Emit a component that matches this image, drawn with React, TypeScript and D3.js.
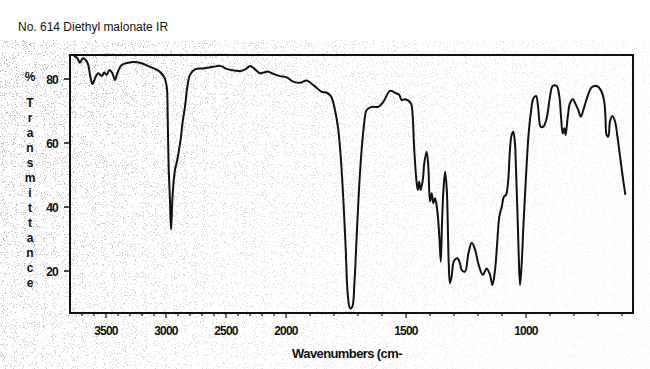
import React from 'react';
import * as d3 from 'd3';

const width = 650;
const height = 369;

// wavenumber (cm-1) and %T
const wavenumbers = [
  3767, 3739, 3717, 3694, 3667, 3648, 3628, 3611, 3592, 3564, 3536, 3514, 3494, 3472, 3447, 3425, 3406, 3369,
  3314, 3272, 3203, 3133, 3064, 3017, 2994, 2986, 2978, 2967, 2958, 2944, 2925, 2906, 2883, 2875, 2861, 2842,
  2822, 2800, 2758, 2689, 2606, 2550, 2481, 2369, 2328, 2300, 2258, 2217, 2189, 2147, 2106, 2050, 1997, 1970,
  1942, 1914, 1886, 1851, 1830, 1812, 1796, 1782, 1771, 1761, 1751, 1743, 1733, 1724, 1715, 1705, 1696, 1685,
  1675, 1664, 1643, 1615, 1594, 1567, 1546, 1528, 1518, 1504, 1480, 1472, 1467, 1458, 1451, 1445, 1439, 1430,
  1424, 1414, 1407, 1400, 1393, 1386, 1379, 1370, 1361, 1355, 1350, 1344, 1337, 1330, 1326, 1322, 1317, 1310,
  1300, 1286, 1275, 1268, 1254, 1240, 1226, 1212, 1199, 1180, 1164, 1150, 1140, 1129, 1122, 1111, 1101, 1092,
  1083, 1074, 1067, 1060, 1053, 1046, 1042, 1036, 1031, 1025, 1018, 1011, 1000, 990, 980, 969, 958, 949,
  939, 928, 914, 900, 889, 872, 861, 854, 847, 840, 835, 826, 817, 805, 792, 782, 772, 761,
  744, 726, 705, 689, 675, 669, 664, 657, 650, 640, 629, 619, 608, 597, 586,
];
const transmittance = [
  87.2, 86.5, 85.1, 86.5, 85.9, 84.4, 80.2, 78.4, 80.2, 81.8, 80.9, 82.0, 81.3, 82.8, 81.8, 79.7, 81.8, 84.4,
  85.1, 85.3, 84.9, 83.8, 82.6, 80.7, 77.6, 68.2, 52.6, 42.2, 33.0, 44.3, 51.6, 54.7, 59.9, 62.0, 66.7, 71.3,
  77.6, 81.3, 83.0, 83.3, 83.8, 84.1, 83.0, 82.6, 83.3, 84.1, 83.0, 81.8, 82.0, 82.3, 81.6, 80.9, 80.5, 79.2,
  78.8, 79.5, 78.1, 76.0, 75.7, 74.5, 70.3, 64.1, 54.7, 42.2, 26.6, 13.0, 8.3, 8.8, 16.2, 31.8, 45.3, 57.8,
  65.6, 70.3, 71.3, 71.3, 72.9, 76.3, 75.7, 75.0, 73.4, 73.7, 72.4, 68.2, 59.9, 49.5, 45.3, 47.9, 45.3, 48.4,
  53.6, 57.3, 52.6, 41.7, 44.3, 41.2, 42.7, 39.1, 30.7, 22.9, 34.9, 45.3, 51.0, 45.3, 34.9, 22.4, 16.2, 18.2,
  23.2, 24.0, 22.4, 20.3, 19.8, 25.5, 28.8, 26.6, 22.4, 18.8, 20.8, 18.8, 15.6, 20.3, 26.6, 37.0, 40.1, 43.2,
  43.8, 48.4, 57.8, 62.5, 63.5, 59.9, 52.6, 39.1, 26.6, 15.6, 22.4, 33.8, 49.5, 62.0, 69.3, 74.0, 74.7, 70.8,
  65.1, 65.1, 67.7, 74.5, 77.8, 77.8, 74.5, 68.2, 63.0, 64.6, 62.5, 68.2, 72.4, 73.7, 71.9, 70.3, 68.2, 70.3,
  74.5, 77.4, 77.8, 76.6, 73.4, 68.2, 62.5, 62.0, 66.7, 68.4, 66.7, 62.0, 55.7, 49.5, 43.8,
];

const xTickLabels = [3500, 3000, 2500, 2000, 1500, 1000];
const yTickLabels = [20, 40, 60, 80];
const yTitle = 'Transmittance';

const frame = { left: 70, right: 633, top: 55, bottom: 313 };

// the chart switches scale at 2000 cm-1 (double spread below)
const x = d3.scaleLinear().domain([3800, 2000, 550]).range([70, 286, 634]);
const y = d3.scaleLinear().domain([20, 80]).range([271, 79]);

const minorTicks = d3.range(600, 3800, 100);

const App = () => {
  const points = wavenumbers.map((w, i) => [w, transmittance[i]] as [number, number]);
  const line = d3
    .line<[number, number]>()
    .x(d => x(d[0]))
    .y(d => y(d[1]))
    .curve(d3.curveCatmullRom.alpha(0.5));

  const bold = { fontFamily: 'Liberation Sans, Arial, sans-serif', fontWeight: 700 };

  return (
    <svg width={width} height={height} style={{ position: 'absolute', left: 0, top: 0, background: '#fff' }}>
      <defs>
        {/* photocopy speckle */}
        <filter id="speckle" x="0" y="0" width="100%" height="100%">
          <feTurbulence type="fractalNoise" baseFrequency="0.9" numOctaves="2" seed="7" />
          <feColorMatrix
            type="matrix"
            values="0 0 0 0 0.3  0 0 0 0 0.3  0 0 0 0 0.3  9 0 0 0 -5.4"
          />
        </filter>
        <linearGradient id="fade" x1="0" y1="0" x2="1" y2="0.3">
          <stop offset="0" stopColor="#fff" stopOpacity={0} />
          <stop offset="0.5" stopColor="#fff" stopOpacity={0.5} />
          <stop offset="1" stopColor="#fff" stopOpacity={0.85} />
        </linearGradient>
      </defs>
      <rect x={0} y={40} width={width} height={height - 40} filter="url(#speckle)" opacity={0.8} />
      <rect x={0} y={40} width={width} height={height - 40} fill="url(#fade)" />

      <text x={18} y={31} fontSize={12} fontFamily="Liberation Sans, Arial, sans-serif" fill="#111">
        No. 614 Diethyl malonate IR
      </text>

      <rect
        x={frame.left}
        y={frame.top}
        width={frame.right - frame.left}
        height={frame.bottom - frame.top}
        fill="none"
        stroke="#111"
        strokeWidth={2}
      />

      {/* y axis */}
      {yTickLabels.map(t => (
        <g key={t}>
          <line x1={frame.left - 6} x2={frame.left} y1={y(t)} y2={y(t)} stroke="#111" strokeWidth={1.5} />
          <text x={58} y={y(t) + 4.5} textAnchor="end" fontSize={12} letterSpacing={-0.8} {...bold} fill="#111">
            {t}
          </text>
        </g>
      ))}
      <text x={30} y={81} textAnchor="middle" fontSize={12} {...bold} fill="#111">
        %
      </text>
      {yTitle.split('').map((c, i) => (
        <text key={i} x={30} y={107 + i * 15} textAnchor="middle" fontSize={12} {...bold} fill="#111">
          {c}
        </text>
      ))}

      {/* x axis */}
      {minorTicks.map(t => (
        <line
          key={t}
          x1={x(t)}
          x2={x(t)}
          y1={frame.bottom}
          y2={frame.bottom + (t % 500 === 0 ? 5 : 3)}
          stroke="#111"
          strokeWidth={1.2}
        />
      ))}
      {xTickLabels.map(t => (
        <text key={t} x={x(t)} y={335} textAnchor="middle" fontSize={12} letterSpacing={-0.8} {...bold} fill="#111">
          {t}
        </text>
      ))}
      <text x={347} y={358} textAnchor="middle" fontSize={13} letterSpacing={-0.6} {...bold} fill="#111">
        Wavenumbers (cm-
      </text>

      <path d={line(points) || ''} fill="none" stroke="#111" strokeWidth={2} strokeLinejoin="round" />
    </svg>
  );
};

export default App;
